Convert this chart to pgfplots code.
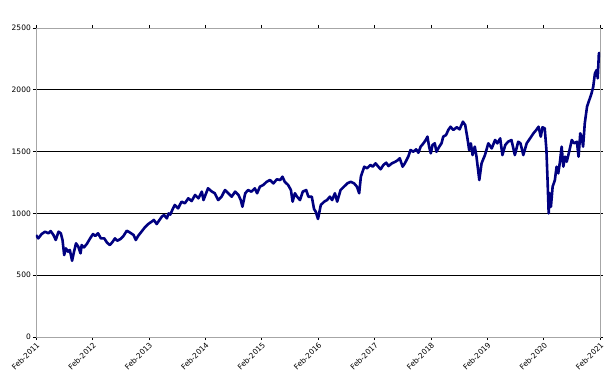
\documentclass[border=0pt]{standalone}
\usepackage{pgfplots}
\pgfplotsset{compat=1.18}
\usepackage{pgfplotstable}
\usepackage{fontspec}
\setmainfont{DejaVu Sans}
\definecolor{navyline}{HTML}{000080}
\pgfplotstableread{
t val
0.00 825
0.04 798
0.10 833
0.16 852
0.22 839
0.26 857
0.31 825
0.35 785
0.40 852
0.44 839
0.47 785
0.50 663
0.53 717
0.57 690
0.60 704
0.64 617
0.67 682
0.71 758
0.75 731
0.79 677
0.81 744
0.85 725
0.90 752
0.96 798
1.01 833
1.05 817
1.10 839
1.15 798
1.21 798
1.26 763
1.31 744
1.36 771
1.40 798
1.44 779
1.50 793
1.55 817
1.61 860
1.67 844
1.73 825
1.77 785
1.81 817
1.87 852
1.93 887
1.99 914
2.05 933
2.09 947
2.14 914
2.19 947
2.23 973
2.27 987
2.32 960
2.35 1000
2.38 990
2.43 1041
2.46 1068
2.52 1041
2.58 1095
2.64 1082
2.70 1122
2.76 1100
2.82 1149
2.88 1122
2.94 1176
2.97 1108
3.05 1203
3.12 1176
3.17 1163
3.23 1108
3.29 1135
3.35 1189
3.41 1163
3.47 1135
3.53 1176
3.59 1149
3.63 1108
3.66 1054
3.71 1163
3.76 1189
3.82 1176
3.88 1203
3.92 1163
3.97 1216
4.03 1230
4.09 1256
4.15 1270
4.21 1243
4.27 1276
4.33 1270
4.37 1297
4.41 1256
4.47 1230
4.52 1189
4.55 1095
4.59 1163
4.63 1135
4.68 1108
4.73 1176
4.79 1189
4.83 1135
4.89 1135
4.93 1035
4.96 1014
5.00 955
5.05 1068
5.11 1095
5.16 1108
5.21 1135
5.25 1108
5.30 1163
5.34 1095
5.40 1189
5.46 1216
5.52 1243
5.58 1256
5.64 1243
5.69 1216
5.73 1163
5.76 1297
5.82 1378
5.87 1365
5.93 1392
5.97 1378
6.02 1405
6.07 1378
6.11 1357
6.16 1392
6.21 1410
6.25 1383
6.31 1405
6.37 1418
6.42 1432
6.45 1446
6.50 1378
6.54 1405
6.60 1459
6.64 1513
6.69 1499
6.74 1518
6.78 1491
6.82 1540
6.87 1567
6.91 1594
6.94 1621
6.97 1540
7.00 1486
7.03 1553
7.07 1567
7.10 1499
7.15 1540
7.19 1567
7.22 1621
7.27 1634
7.31 1675
7.35 1701
7.40 1675
7.46 1697
7.51 1680
7.57 1742
7.61 1715
7.65 1607
7.68 1513
7.71 1567
7.74 1472
7.78 1540
7.81 1459
7.86 1270
7.90 1405
7.96 1472
8.02 1567
8.08 1526
8.14 1594
8.18 1567
8.23 1607
8.27 1472
8.32 1553
8.37 1580
8.43 1594
8.49 1472
8.55 1580
8.59 1567
8.64 1472
8.70 1567
8.76 1607
8.82 1648
8.87 1675
8.91 1701
8.95 1621
8.98 1697
9.02 1688
9.05 1513
9.07 1270
9.09 1000
9.11 1163
9.13 1054
9.16 1216
9.20 1270
9.23 1378
9.26 1324
9.29 1418
9.32 1540
9.35 1378
9.38 1459
9.41 1418
9.46 1513
9.50 1594
9.54 1567
9.59 1580
9.62 1459
9.65 1648
9.68 1607
9.70 1540
9.73 1729
9.77 1864
9.82 1931
9.85 1971
9.88 2025
9.91 2133
9.94 2160
9.96 2093
9.98 2295
10.00 2300
}\dataA
\begin{document}
\begin{tikzpicture}
\begin{axis}[
  scale only axis,
  width=564pt, height=309pt,
  xmin=0, xmax=10, ymin=0, ymax=2500,
  xtick={0,1,...,10},
  xticklabels={Feb-2011,Feb-2012,Feb-2013,Feb-2014,Feb-2015,Feb-2016,Feb-2017,Feb-2018,Feb-2019,Feb-2020,Feb-2021},
  ytick={0,500,...,2500},
  ymajorgrids,
  major grid style={black, line width=0.8pt},
  axis line style={gray!70, line width=0.8pt},
  tick align=outside,
  major tick length=3pt,
  tick style={black, line width=0.6pt},
  every tick label/.append style={font=\fontsize{7.5}{9}\selectfont},
  /pgf/number format/assume math mode=true,
  /pgf/number format/1000 sep={},
  xticklabel style={rotate=45, anchor=north east, inner sep=1pt},
  yticklabel style={inner sep=2pt},
]
\addplot[navyline, line width=2.6pt, line join=round] table[x=t, y=val] {\dataA};
\end{axis}
\path (current axis.south west) ++(-36pt,-51pt) rectangle ++(613pt,388pt);
\end{tikzpicture}
\end{document}
